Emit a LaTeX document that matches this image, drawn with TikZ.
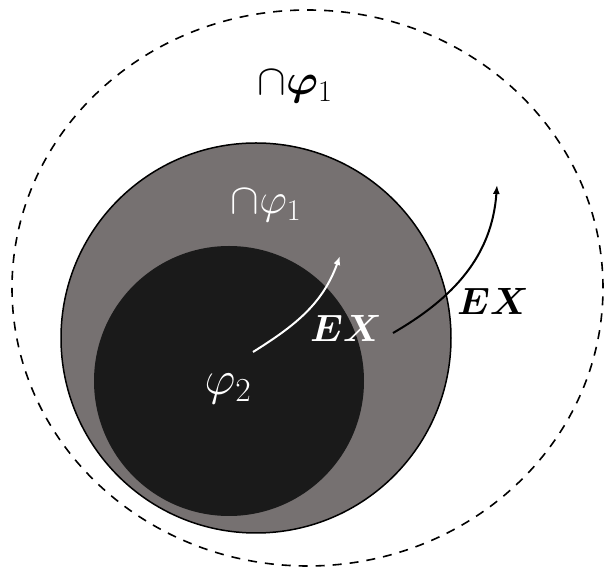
\RequirePackage{fix-cm}
\documentclass[tikz,border=0pt]{standalone}
\usepackage{amsmath,bm}
\usepackage{xcolor}
\usepackage{tikz}
\usetikzlibrary{arrows.meta}
\definecolor{ringgray}{HTML}{767171}
\definecolor{coreblack}{HTML}{1A1A1A}

\begin{document}
\begin{tikzpicture}[
            x=1pt,y=1pt,
            every node/.style={font=\fontsize{38}{44}\selectfont,inner sep=0pt},
            setlab/.style={font=\fontsize{43}{50}\selectfont},
            outerset/.style={black,dash pattern=on 9pt off 8pt,line width=1.6pt},
            graydisk/.style={fill=ringgray,draw=black,line width=1.5pt},
            blackdisk/.style={fill=coreblack},
            whitelab/.style={text=white},
            steparrow/.style={line width=2pt,-{Latex[length=9pt,width=7pt]}},
        ]
          % canvas 606 x 570, origin bottom left
          \useasboundingbox (0,0) rectangle (606,570);

          % nested sets
          \draw[outerset]  (307.5,282) ellipse [x radius=295.5,y radius=278];
          \draw[graydisk]  (256,232) circle [radius=195];
          \fill[blackdisk] (229,189) circle [radius=135];

          \node[setlab] (capout) at (295,483) {$\cap\bm{\varphi}_1$};
          \node[setlab,whitelab] (capin) at (266,364) {$\cap\varphi_1$};
          \node[setlab,whitelab,font=\fontsize{48}{56}\selectfont] (phitwo) at (228,181) {$\varphi_2$};
          \node[whitelab] (exin) at (346,242) {$\bm{EX}$};
          \node (exout) at (493,269) {$\bm{EX}$};

          % EX steps
          \coordinate (winfrom) at (253,218);
          \coordinate (winto)   at (340,314);
          \coordinate (boutfrom) at (393,237);
          \coordinate (boutto)   at (497,385);
          \draw[steparrow,white] (winfrom) to[out=32,in=250] (winto);
          \draw[steparrow,black] (boutfrom) to[out=30,in=266] (boutto);
        \end{tikzpicture}
\end{document}
